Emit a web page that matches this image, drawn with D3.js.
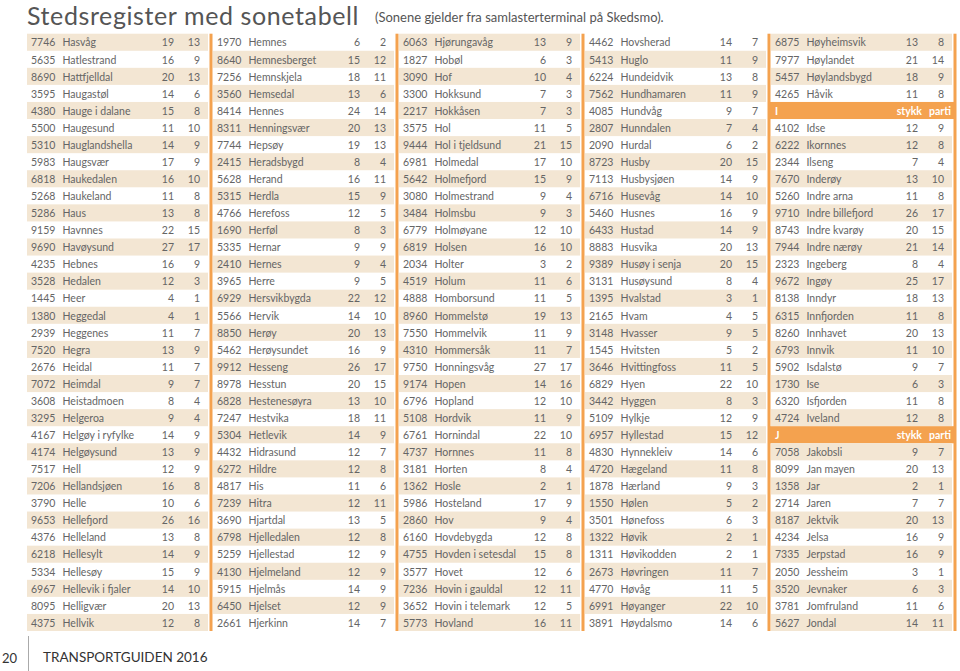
<!DOCTYPE html>
<html>
<head>
<meta charset="utf-8">
<script src="https://cdn.jsdelivr.net/npm/d3@7"></script>
<style>
    body { margin: 0; background: #fff; }
    svg text { font-family: Lato, "Noto Sans", sans-serif; }
</style>
</head>
<body>
<div id="chart"></div>
<script>

// five columns of 35 rows, read top to bottom; a null code marks a letter heading
const codes = [
    7746, 5635, 8690, 3595, 4380, 5500, 5310, 5983, 6818, 5268, 5286, 9159, 9690, 4235, 3528, 1445, 1380,
    2939, 7520, 2676, 7072, 3608, 3295, 4167, 4174, 7517, 7206, 3790, 9653, 4376, 6218, 5334, 6967, 8095, 4375,
    1970, 8640, 7256, 3560, 8414, 8311, 7744, 2415, 5628, 5315, 4766, 1690, 5335, 2410, 3965, 6929, 5566,
    8850, 5462, 9912, 8978, 6828, 7247, 5304, 4432, 6272, 4817, 7239, 3690, 6798, 5259, 4130, 5915, 6450, 2661,
    6063, 1827, 3090, 3300, 2217, 3575, 9444, 6981, 5642, 3080, 3484, 6779, 6819, 2034, 4519, 4888, 8960,
    7550, 4310, 9750, 9174, 6796, 5108, 6761, 4737, 3181, 1362, 5986, 2860, 6160, 4755, 3577, 7236, 3652, 5773,
    4462, 5413, 6224, 7562, 4085, 2807, 2090, 8723, 7113, 6716, 5460, 6433, 8883, 9389, 3131, 1395, 2165,
    3148, 1545, 3646, 6829, 3442, 5109, 6957, 4830, 4720, 1878, 1550, 3501, 1322, 1311, 2673, 4770, 6991, 3891,
    6875, 7977, 5457, 4265, null,
    4102, 6222, 2344, 7670, 5260, 9710, 8743, 7944, 2323, 9672, 8138, 6315, 8260, 6793, 5902, 1730, 6320, 4724, null,
    7058, 8099, 1358, 2714, 8187, 4234, 7335, 2050, 3520, 3781, 5627
];

const places = [
    "Hasvåg", "Hatlestrand", "Hattfjelldal", "Haugastøl", "Hauge i dalane", "Haugesund", "Hauglandshella",
    "Haugsvær", "Haukedalen", "Haukeland", "Haus", "Havnnes", "Havøysund", "Hebnes", "Hedalen", "Heer",
    "Heggedal", "Heggenes", "Hegra", "Heidal", "Heimdal", "Heistadmoen", "Helgeroa", "Helgøy i ryfylke",
    "Helgøysund", "Hell", "Hellandsjøen", "Helle", "Hellefjord", "Helleland", "Hellesylt", "Hellesøy",
    "Hellevik i fjaler", "Helligvær", "Hellvik",
    "Hemnes", "Hemnesberget", "Hemnskjela", "Hemsedal", "Hennes", "Henningsvær", "Hepsøy", "Heradsbygd",
    "Herand", "Herdla", "Herefoss", "Herføl", "Hernar", "Hernes", "Herre", "Hersvikbygda", "Hervik",
    "Herøy", "Herøysundet", "Hesseng", "Hesstun", "Hestenesøyra", "Hestvika", "Hetlevik", "Hidrasund",
    "Hildre", "His", "Hitra", "Hjartdal", "Hjelledalen", "Hjellestad", "Hjelmeland", "Hjelmås", "Hjelset",
    "Hjerkinn",
    "Hjørungavåg", "Hobøl", "Hof", "Hokksund", "Hokkåsen", "Hol", "Hol i tjeldsund", "Holmedal",
    "Holmefjord", "Holmestrand", "Holmsbu", "Holmøyane", "Holsen", "Holter", "Holum", "Homborsund",
    "Hommelstø", "Hommelvik", "Hommersåk", "Honningsvåg", "Hopen", "Hopland", "Hordvik", "Hornindal",
    "Hornnes", "Horten", "Hosle", "Hosteland", "Hov", "Hovdebygda", "Hovden i setesdal", "Hovet",
    "Hovin i gauldal", "Hovin i telemark", "Hovland",
    "Hovsherad", "Huglo", "Hundeidvik", "Hundhamaren", "Hundvåg", "Hunndalen", "Hurdal", "Husby",
    "Husbysjøen", "Husevåg", "Husnes", "Hustad", "Husvika", "Husøy i senja", "Husøysund", "Hvalstad",
    "Hvam", "Hvasser", "Hvitsten", "Hvittingfoss", "Hyen", "Hyggen", "Hylkje", "Hyllestad", "Hynnekleiv",
    "Hægeland", "Hærland", "Hølen", "Hønefoss", "Høvik", "Høvikodden", "Høvringen", "Høvåg", "Høyanger",
    "Høydalsmo",
    "Høyheimsvik", "Høylandet", "Høylandsbygd", "Håvik", "I",
    "Idse", "Ikornnes", "Ilseng", "Inderøy", "Indre arna", "Indre billefjord", "Indre kvarøy", "Indre nærøy",
    "Ingeberg", "Ingøy", "Inndyr", "Innfjorden", "Innhavet", "Innvik", "Isdalstø", "Ise", "Isfjorden",
    "Iveland", "J",
    "Jakobsli", "Jan mayen", "Jar", "Jaren", "Jektvik", "Jelsa", "Jerpstad", "Jessheim", "Jevnaker",
    "Jomfruland", "Jondal"
];

const stykk = [
    19, 16, 20, 14, 15, 11, 14, 17, 16, 11, 13, 22, 27, 16, 12, 4, 4,
    11, 13, 11, 9, 8, 9, 14, 13, 12, 16, 10, 26, 13, 14, 15, 14, 20, 12,
    6, 15, 18, 13, 24, 20, 19, 8, 16, 15, 12, 8, 9, 9, 9, 22, 14,
    20, 16, 26, 20, 13, 18, 14, 12, 12, 11, 12, 13, 12, 12, 12, 14, 12, 14,
    13, 6, 10, 7, 7, 11, 21, 17, 15, 9, 9, 12, 16, 3, 11, 11, 19,
    11, 11, 27, 14, 12, 11, 22, 11, 8, 2, 17, 9, 12, 15, 12, 12, 12, 16,
    14, 11, 13, 11, 9, 7, 6, 20, 14, 14, 16, 14, 20, 20, 8, 3, 4,
    9, 5, 11, 22, 8, 12, 15, 14, 11, 9, 5, 6, 2, 2, 11, 11, 22, 14,
    13, 21, 18, 11, null,
    12, 12, 7, 13, 11, 26, 20, 21, 8, 25, 18, 11, 20, 11, 9, 6, 11, 12, null,
    9, 20, 2, 7, 20, 16, 16, 3, 6, 11, 14
];

const parti = [
    13, 9, 13, 6, 8, 10, 9, 9, 10, 8, 8, 15, 17, 9, 3, 1, 1,
    7, 9, 7, 7, 4, 4, 9, 9, 9, 8, 6, 16, 8, 9, 9, 10, 13, 8,
    2, 12, 11, 6, 14, 13, 13, 4, 11, 9, 5, 3, 9, 4, 5, 12, 10,
    13, 9, 17, 15, 10, 11, 9, 7, 8, 6, 11, 5, 8, 9, 9, 9, 9, 7,
    9, 3, 4, 3, 3, 5, 15, 10, 9, 4, 3, 10, 10, 2, 6, 5, 13,
    9, 7, 17, 16, 10, 9, 10, 8, 4, 1, 9, 4, 8, 8, 6, 11, 5, 11,
    7, 9, 8, 9, 7, 4, 2, 15, 9, 10, 9, 9, 13, 15, 4, 1, 5,
    5, 2, 5, 10, 3, 9, 12, 6, 8, 3, 2, 3, 1, 1, 7, 5, 10, 6,
    8, 14, 9, 8, null,
    9, 8, 4, 10, 8, 17, 15, 14, 4, 17, 13, 8, 13, 10, 7, 3, 8, 8, null,
    7, 13, 1, 7, 13, 9, 9, 1, 3, 6, 11
];

const headLabels = ["stykk", "parti"];
const title = "Stedsregister med sonetabell";
const subtitle = "(Sonene gjelder fra samlasterterminal på Skedsmo).";
const footer = "TRANSPORTGUIDEN 2016";
const pageNo = "20";

const width = 960;
const height = 671;
const perCol = 35;
const nCols = 5;

const beige = "#f3e6d3";
const orange = "#f4a24f";
const ink = "#656565";

const rows = codes.map((c, i) => ({
    code: c,
    place: places[i],
    stykk: stykk[i],
    parti: parti[i],
    col: Math.floor(i / perCol),
    row: i % perCol,
    i: i
}));

const x = d3.scaleBand()
    .domain(d3.range(nCols))
    .range([25, 955]);

const y = d3.scaleBand()
    .domain(d3.range(perCol))
    .range([33.7, 631]);

const bw = x.bandwidth();
const rh = y.bandwidth();

const svg = d3.select("#chart")
    .append("svg")
    .attr("width", width)
    .attr("height", height);

svg.append("text")
    .attr("x", 27)
    .attr("y", 25)
    .attr("fill", "#555")
    .style("font-size", "25px")
    .style("letter-spacing", "0.6px")
    .text(title);

svg.append("text")
    .attr("x", 375)
    .attr("y", 22)
    .attr("fill", "#555")
    .style("font-size", "13px")
    .text(subtitle);

const g = svg.selectAll("g.row")
    .data(rows)
    .enter()
    .append("g")
    .attr("class", "row")
    .attr("transform", d => "translate(" + x(d.col) + "," + y(d.row) + ")");

// striping runs on through all columns
g.filter(d => d.code !== null && d.i % 2 === 0)
    .append("rect")
    .attr("x", 2)
    .attr("width", bw - 5)
    .attr("height", rh)
    .attr("fill", beige);

const heads = g.filter(d => d.code === null);

heads.append("rect")
    .attr("width", bw)
    .attr("height", rh)
    .attr("fill", orange);

heads.append("text")
    .attr("x", 6)
    .attr("y", 12.8)
    .attr("fill", "#fff")
    .style("font-size", "10.5px")
    .style("font-weight", "bold")
    .text(d => d.place);

heads.selectAll("text.lab")
    .data(headLabels)
    .enter()
    .append("text")
    .attr("class", "lab")
    .attr("x", (d, i) => i === 0 ? bw - 33 : bw - 4)
    .attr("y", 12.8)
    .attr("text-anchor", "end")
    .attr("fill", "#fff")
    .style("font-size", "10.5px")
    .style("font-weight", "bold")
    .text(d => d);

const body = g.filter(d => d.code !== null)
    .append("g")
    .attr("fill", ink)
    .style("font-size", "10.5px");

body.append("text")
    .attr("x", 6)
    .attr("y", 12.8)
    .text(d => d.code);

body.append("text")
    .attr("x", 37.5)
    .attr("y", 12.8)
    .text(d => d.place);

body.append("text")
    .attr("x", bw - 37)
    .attr("y", 12.8)
    .attr("text-anchor", "end")
    .text(d => d.stykk);

body.append("text")
    .attr("x", bw - 11)
    .attr("y", 12.8)
    .attr("text-anchor", "end")
    .text(d => d.parti);

// orange rules between the columns
svg.selectAll("rect.rule")
    .data(d3.range(nCols))
    .enter()
    .append("rect")
    .attr("class", "rule")
    .attr("x", d => x(d) + bw - 1.5)
    .attr("y", y(0))
    .attr("width", 3)
    .attr("height", y(perCol - 1) + rh - y(0))
    .attr("fill", orange);

svg.append("line")
    .attr("x1", 28.5)
    .attr("x2", 28.5)
    .attr("y1", 636)
    .attr("y2", height)
    .attr("stroke", "#aaa")
    .attr("stroke-width", 1);

svg.append("text")
    .attr("x", 2)
    .attr("y", 663)
    .attr("fill", "#333")
    .style("font-size", "13px")
    .text(pageNo);

svg.append("text")
    .attr("x", 43)
    .attr("y", 662)
    .attr("fill", "#333")
    .style("font-size", "13.5px")
    .text(footer);

</script>
</body>
</html>
